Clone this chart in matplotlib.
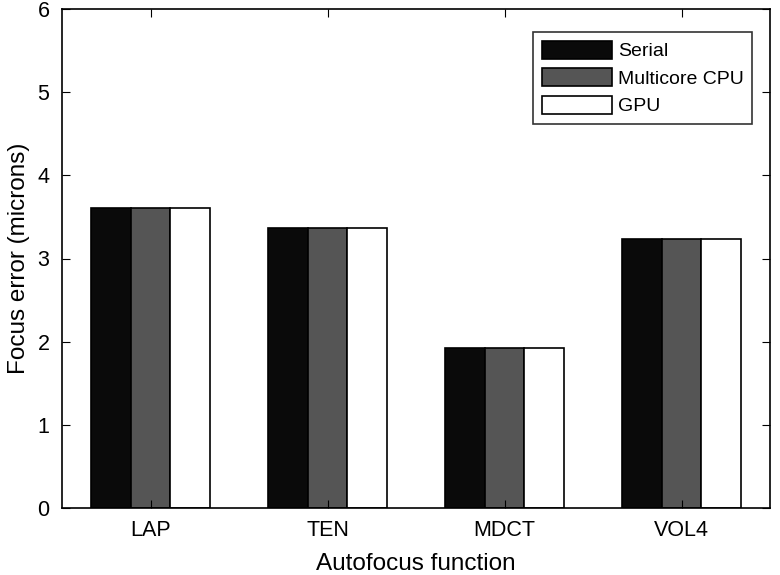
import matplotlib
matplotlib.use('Agg')
from matplotlib import pyplot as plt
import numpy as np

plt.rcParams['font.family'] = ['Liberation Sans', 'DejaVu Sans']

categories = ['LAP', 'TEN', 'MDCT', 'VOL4']
serial = [3.61, 3.37, 1.92, 3.24]
multicore = [3.61, 3.37, 1.92, 3.24]
gpu = [3.61, 3.37, 1.92, 3.24]
series_names = ['Serial', 'Multicore CPU', 'GPU']
colors = ['#0a0a0a', '#555555', '#ffffff']

fig = plt.figure(figsize=(7.8, 5.75), dpi=100)
ax = fig.add_axes([62/780, 67/575, 708/780, 499/575])

x = np.arange(1, len(categories) + 1)
w = 0.225
for i, (vals, name, c) in enumerate(zip([serial, multicore, gpu], series_names, colors)):
    ax.bar(x + (i - 1) * w, vals, w, color=c, edgecolor='black', linewidth=1.2, label=name)

ax.set_xlim(0.5, 4.5)
ax.set_ylim(0, 6)
ax.set_xticks(x)
ax.set_xticklabels(categories)
ax.set_yticks(range(7))
ax.tick_params(direction='in', top=True, right=True, labelsize=15.5, length=6, pad=9)
for s in ax.spines.values():
    s.set_linewidth(1.2)
ax.set_xlabel('Autofocus function', fontsize=17.5, labelpad=8)
ax.set_ylabel('Focus error (microns)', fontsize=17.5, labelpad=5)

leg = ax.legend(loc='upper right', bbox_to_anchor=(0.975, 0.954), borderaxespad=0,
                fontsize=14, frameon=True, fancybox=False, edgecolor='black',
                handlelength=3.6, handleheight=1.05, handletextpad=0.3,
                borderpad=0.45, labelspacing=0.4)
leg.get_frame().set_linewidth(1.2)

fig.savefig('out.png', dpi=100)
